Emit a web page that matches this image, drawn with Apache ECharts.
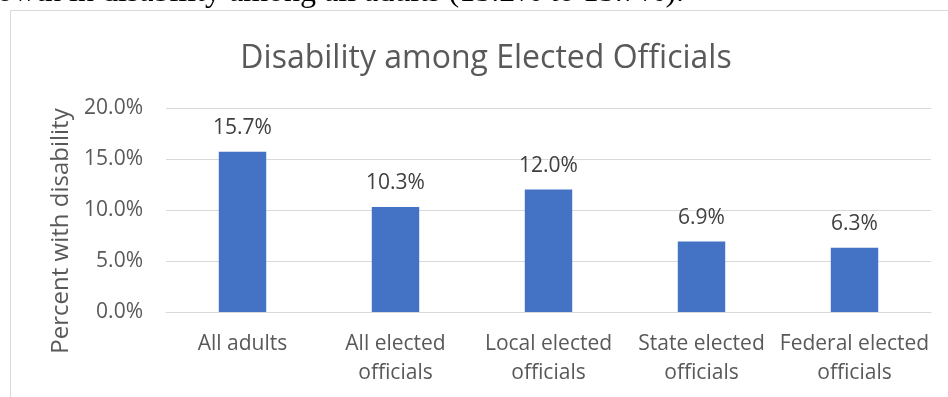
<!DOCTYPE html>
<html><head><meta charset="utf-8">
<script src="https://cdn.jsdelivr.net/npm/echarts@6/dist/echarts.min.js"></script>
<style>html,body{margin:0;padding:0;background:#fff}#c{width:948px;height:397px}</style>
</head><body><div id="c"></div>
<script>
const categories = ['All adults', 'All elected\nofficials', 'Local elected\nofficials', 'State elected\nofficials', 'Federal elected\nofficials'];
const values = [15.7, 10.3, 12.0, 6.9, 6.3];
const yTicks = [0, 5, 10, 15, 20];
const titleText = 'Disability among Elected Officials';
const yAxisName = 'Percent with disability';
const topText = 'owth in disability among all adults (15.2% to 15.7%).';

const font = "'Open Sans', sans-serif";
const chart = echarts.init(document.getElementById('c'));
chart.setOption({
  animation: false,
  backgroundColor: '#fff',
  title: {
    text: titleText, left: 481, top: 38, textAlign: 'center',
    textStyle: { fontFamily: font, fontSize: 32, fontWeight: 'normal', color: '#595959' }
  },
  graphic: [
    { type: 'rect', shape: { x: 10.5, y: 10.5, width: 1000, height: 500 }, style: { fill: 'none', stroke: '#d9d9d9', lineWidth: 1 } },
    { type: 'text', left: -3, top: -23, style: { text: topText, font: "32px 'Liberation Serif', serif", fill: '#000' } },
    { type: 'text', x: 61, y: 231, rotation: Math.PI / 2, style: { text: yAxisName, font: "24px 'Open Sans', sans-serif", fill: '#595959', align: 'center', verticalAlign: 'middle' } }
  ],
  grid: { left: 166, right: 17, top: 108, bottom: 85, containLabel: false },
  xAxis: {
    type: 'category', data: categories,
    axisLine: { lineStyle: { color: '#d9d9d9', width: 1 } },
    axisTick: { show: false },
    axisLabel: { color: '#595959', fontFamily: font, fontSize: 21, lineHeight: 29, margin: 18, interval: 0 }
  },
  yAxis: {
    type: 'value', min: yTicks[0], max: yTicks[yTicks.length - 1], interval: 5,
    axisLine: { show: false }, axisTick: { show: false },
    splitLine: { lineStyle: { color: '#d9d9d9', width: 1 } },
    axisLabel: { color: '#595959', fontFamily: font, fontSize: 21, margin: 23, formatter: v => v.toFixed(1) + '%' }
  },
  series: [{
    type: 'bar', data: values, barWidth: '31%', itemStyle: { color: '#4472C4' },
    label: { show: true, position: 'top', distance: 13, color: '#404040', fontFamily: font, fontSize: 21, formatter: p => p.value.toFixed(1) + '%' }
  }]
});
</script></body></html>
